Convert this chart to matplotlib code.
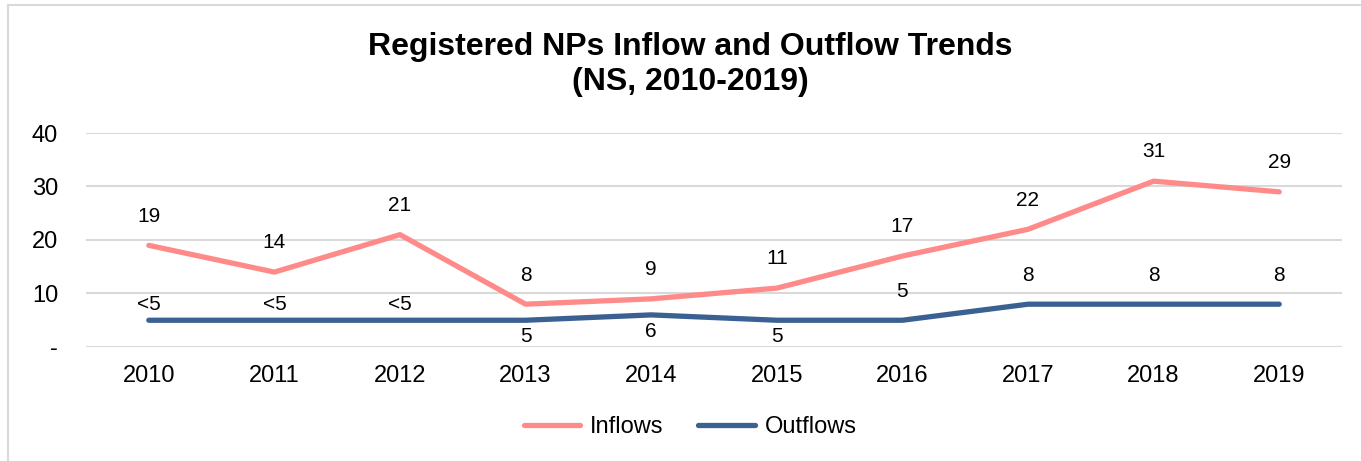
import numpy as np
import matplotlib
matplotlib.use('Agg')
import matplotlib.pyplot as plt
from matplotlib.lines import Line2D

# Data
years    = ['2010', '2011', '2012', '2013', '2014', '2015', '2016', '2017', '2018', '2019']
inflows  = [19, 14, 21, 8, 9, 11, 17, 22, 31, 29]
outflows = [5, 5, 5, 5, 6, 5, 5, 8, 8, 8]
in_labels  = ['19', '14', '21', '8', '9', '11', '17', '22', '31', '29']
out_labels = ['<5', '<5', '<5', '5', '6', '5', '5', '8', '8', '8']
y_ticks       = [0, 10, 20, 30, 40]
y_tick_labels = ['-', '10', '20', '30', '40']

# label offsets in points (placement only)
out_offsets = [11, 11, 11, -12, -12, -12, 21, 21, 21, 21]

plt.rcParams['font.family'] = ['Liberation Sans', 'DejaVu Sans']

COLOR_IN  = '#FF8A8A'
COLOR_OUT = '#3B6193'
GRID      = '#d9d9d9'

W, H = 1361, 461
fig = plt.figure(figsize=(W / 100, H / 100), dpi=100)
fig.patch.set_facecolor('white')

# outer frame (left and top edges visible)
fig.add_artist(Line2D([8 / W, 8 / W], [0, 1 - 5 / H], color=GRID, lw=1.5))
fig.add_artist(Line2D([8 / W, 1], [1 - 5 / H, 1 - 5 / H], color=GRID, lw=1.5))

ax = fig.add_axes([86 / W, 1 - 347 / H, (1342 - 86) / W, (347 - 133) / H])
x = np.arange(len(years))

ax.plot(x, inflows, color=COLOR_IN, lw=3.8, solid_capstyle='round', zorder=3)
ax.plot(x, outflows, color=COLOR_OUT, lw=3.8, solid_capstyle='round', zorder=3)

for xi, v, lab in zip(x, inflows, in_labels):
    ax.annotate(lab, (xi, v), xytext=(0, 21), textcoords='offset points',
                ha='center', va='center', fontsize=15, color='black')
for xi, v, lab, off in zip(x, outflows, out_labels, out_offsets):
    ax.annotate(lab, (xi, v), xytext=(0, off), textcoords='offset points',
                ha='center', va='center', fontsize=15, color='black')

ax.set_xlim(-0.5, len(years) - 0.5)
ax.set_ylim(0, 40)
ax.set_xticks(x)
ax.set_xticklabels(years)
ax.set_yticks(y_ticks)
ax.set_yticklabels(y_tick_labels)
ax.tick_params(axis='y', length=0, pad=20, labelsize=17)
ax.tick_params(axis='x', length=0, pad=13, labelsize=17)
ax.grid(axis='y', color=GRID, lw=1.5, zorder=0)
ax.set_axisbelow(True)
for s in ax.spines.values():
    s.set_visible(False)

fig.text(690 / W, 1 - 47 / H, 'Registered NPs Inflow and Outflow Trends',
         ha='center', va='center', fontsize=23, fontweight='bold')
fig.text(690 / W, 1 - 82 / H, '(NS, 2010-2019)',
         ha='center', va='center', fontsize=23, fontweight='bold')

handles = [Line2D([], [], color=COLOR_IN, lw=3.8, solid_capstyle='round'),
           Line2D([], [], color=COLOR_OUT, lw=3.8, solid_capstyle='round')]
fig.legend(handles, ['Inflows', 'Outflows'], loc='center', ncol=2,
           bbox_to_anchor=(690 / W, 1 - 427 / H), frameon=False, fontsize=17,
           handlelength=2.4, handletextpad=0.42, columnspacing=1.45)

fig.savefig('out.png', dpi=100)
